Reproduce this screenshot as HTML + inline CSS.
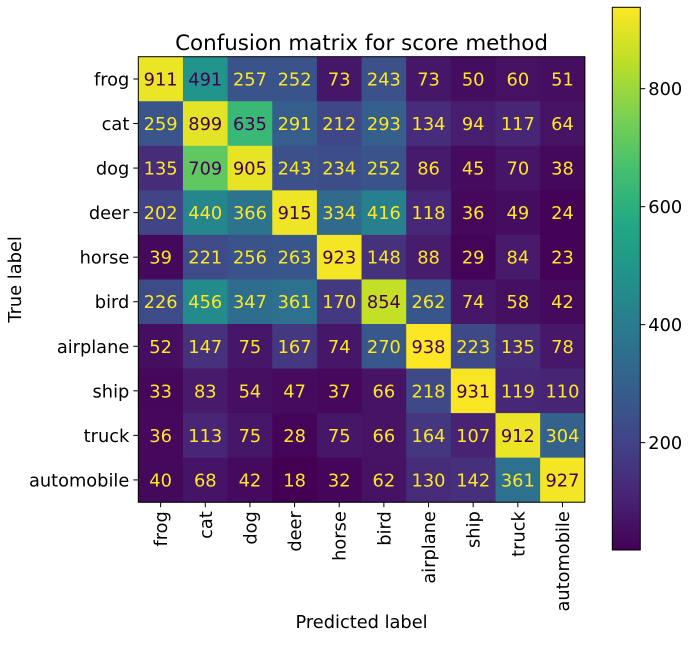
<!DOCTYPE html>
<html><head><meta charset="utf-8"><style>
html,body{margin:0;padding:0;background:#fff;}
svg text{font-family:"DejaVu Sans","Liberation Sans",sans-serif;}
</style></head><body>
<svg id="chart" width="688" height="640" xmlns="http://www.w3.org/2000/svg">
<defs>
<linearGradient id="vir" x1="0" y1="1" x2="0" y2="0">
<stop offset="0" stop-color="#440154"/><stop offset="0.1" stop-color="#482475"/><stop offset="0.2" stop-color="#414487"/><stop offset="0.3" stop-color="#355f8d"/><stop offset="0.4" stop-color="#2a788e"/><stop offset="0.5" stop-color="#21918c"/><stop offset="0.6" stop-color="#22a884"/><stop offset="0.7" stop-color="#44bf70"/><stop offset="0.8" stop-color="#7ad151"/><stop offset="0.9" stop-color="#bddf26"/><stop offset="1" stop-color="#fde725"/>
</linearGradient>
</defs>
<g id="plot"></g>
</svg>
<script>
const labels = ["frog","cat","dog","deer","horse","bird","airplane","ship","truck","automobile"];
const row0 = [911,491,257,252,73,243,73,50,60,51];
const row1 = [259,899,635,291,212,293,134,94,117,64];
const row2 = [135,709,905,243,234,252,86,45,70,38];
const row3 = [202,440,366,915,334,416,118,36,49,24];
const row4 = [39,221,256,263,923,148,88,29,84,23];
const row5 = [226,456,347,361,170,854,262,74,58,42];
const row6 = [52,147,75,167,74,270,938,223,135,78];
const row7 = [33,83,54,47,37,66,218,931,119,110];
const row8 = [36,113,75,28,75,66,164,107,912,304];
const row9 = [40,68,42,18,32,62,130,142,361,927];
const matrix = [row0,row1,row2,row3,row4,row5,row6,row7,row8,row9];
const cbTicks = [200,400,600,800];

const NS="http://www.w3.org/2000/svg";
const g=document.getElementById('plot');
const FS=17.8;
function mk(t,a,txt){const e=document.createElementNS(NS,t);for(const k in a)e.setAttribute(k,a[k]);if(txt!==undefined)e.textContent=txt;g.appendChild(e);return e;}
const vir=[[68,1,84],[72,36,117],[65,68,135],[53,95,141],[42,120,142],[33,145,140],[34,168,132],[68,191,112],[122,209,81],[189,223,38],[253,231,37]];
function cmap(t){t=Math.max(0,Math.min(1,t))*10;const i=Math.min(9,Math.floor(t)),f=t-i;const a=vir[i],b=vir[i+1];return `rgb(${a.map((v,k)=>Math.round(v+(b[k]-v)*f)).join(',')})`;}
const all=matrix.flat();const vmin=Math.min(...all),vmax=Math.max(...all);
const L=138.3,T=56.7,W=446.5,H=445.5,n=labels.length,cw=W/n,ch=H/n;
const xc=j=>L+cw*(j+0.5), yc=i=>T+ch*(i+0.5);
matrix.forEach((row,i)=>row.forEach((v,j)=>{
  const r=mk('rect',{x:L+cw*j,y:T+ch*i,width:cw+0.5,height:ch+0.5,fill:cmap((v-vmin)/(vmax-vmin))});
  
  
  const t=mk('text',{x:xc(j),y:yc(i)+6.5,'text-anchor':'middle','font-size':FS,fill:v<(vmin+vmax)/2?'#fde725':'#440154'},v);
  
  
}));
const fr=mk('rect',{x:L,y:T,width:W,height:H,fill:'none',stroke:'#000','stroke-width':1});


labels.forEach((lb,i)=>{
  mk('line',{x1:L-5,x2:L,y1:yc(i),y2:yc(i),stroke:'#000'});
  const t=mk('text',{x:L-9,y:yc(i)+6.5,'text-anchor':'end','font-size':FS,fill:'#000'},lb);
  
  
  mk('line',{x1:xc(i),x2:xc(i),y1:T+H,y2:T+H+5,stroke:'#000'});
  const x=mk('text',{x:0,y:0,'text-anchor':'end','font-size':FS,fill:'#000',transform:`translate(${xc(i)+6.5},${T+H+9}) rotate(-90)`},lb);
  
  
});
const title=mk('text',{x:L+W/2,y:50,'text-anchor':'middle','font-size':21.4,fill:'#000'},'Confusion matrix for score method');


const yl=mk('text',{x:0,y:0,'text-anchor':'middle','font-size':FS,fill:'#000',transform:`translate(21,${T+H/2}) rotate(-90)`},'True label');


const xl=mk('text',{x:L+W/2,y:628,'text-anchor':'middle','font-size':FS,fill:'#000'},'Predicted label');


const CL=612.3,CW=28,CT=7.3,CB=550;
const cy=v=>CB-(v-vmin)/(vmax-vmin)*(CB-CT);
const cb=mk('rect',{x:CL,y:CT,width:CW,height:CB-CT,fill:'url(#vir)',stroke:'#000','stroke-width':1});


cbTicks.forEach(v=>{
  mk('line',{x1:CL+CW,x2:CL+CW+5,y1:cy(v),y2:cy(v),stroke:'#000'});
  const t=mk('text',{x:CL+CW+8,y:cy(v)+6.5,'font-size':FS,fill:'#000'},v);
  
  
});
</script>
</body></html>
